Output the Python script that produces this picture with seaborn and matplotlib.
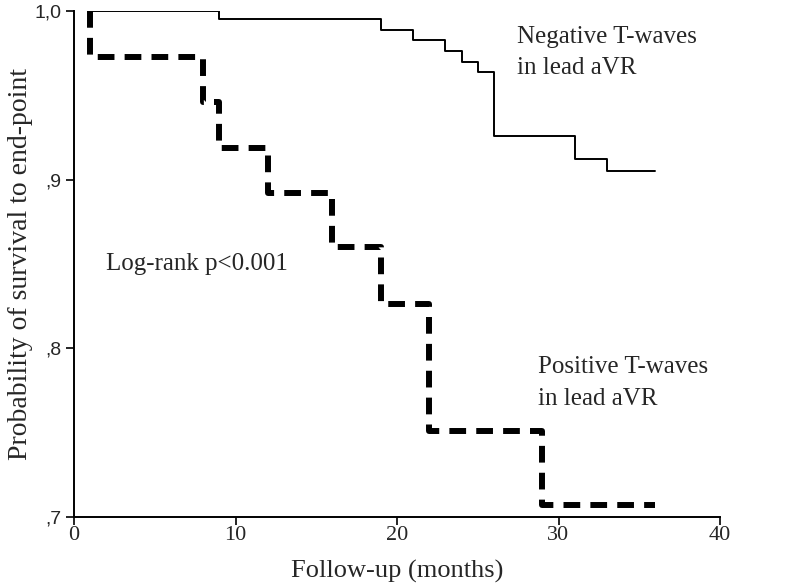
import pandas as pd
import seaborn as sns
import matplotlib.pyplot as plt

# Kaplan-Meier estimates (months, survival probability)
neg_months = [1, 9, 19, 21, 23, 24, 25, 26, 31, 33, 36]
neg_surv = [1.0, 0.995, 0.989, 0.983, 0.976, 0.970, 0.964, 0.926, 0.912, 0.905, 0.905]

pos_months = [1, 1, 8, 9, 12, 16, 19, 22, 29, 36]
pos_surv = [1.0, 0.973, 0.946, 0.919, 0.892, 0.860, 0.826, 0.751, 0.707, 0.707]

x_ticks = [0, 10, 20, 30, 40]
y_ticks = [0.7, 0.8, 0.9, 1.0]
y_tick_labels = [',7', ',8', ',9', '1,0']

neg_df = pd.DataFrame({'months': neg_months, 'surv': neg_surv})
pos_df = pd.DataFrame({'months': pos_months, 'surv': pos_surv})

sns.set_style('ticks')
plt.rcParams['font.family'] = ['Liberation Serif', 'DejaVu Serif']

fig = plt.figure(figsize=(7.89, 5.83), dpi=100)
ax = fig.add_axes([74 / 789, 66 / 583, (720 - 74) / 789, (517 - 11) / 583])

sns.lineplot(data=neg_df, x='months', y='surv', ax=ax, estimator=None, sort=False,
             drawstyle='steps-post', color='black', linewidth=1.4)
sns.lineplot(data=pos_df, x='months', y='surv', ax=ax, estimator=None, sort=False,
             drawstyle='steps-post', color='black', linewidth=4.3,
             linestyle=(0, (2.8, 1.7)))

ax.set_xlim(0, 40)
ax.set_ylim(0.7, 1.0)
ax.set_xticks(x_ticks)
ax.set_xticklabels([str(t) for t in x_ticks], fontsize=16)
ax.set_yticks(y_ticks)
ax.set_yticklabels(y_tick_labels, fontsize=14, family='Liberation Sans')
ax.tick_params(axis='both', direction='out', length=6, width=1.2, color='black')
ax.tick_params(axis='x', pad=0.5)
ax.tick_params(axis='y', pad=3)
for side in ['left', 'bottom']:
    ax.spines[side].set_linewidth(1.4)
    ax.spines[side].set_color('black')
sns.despine(ax=ax)

ax.set_xlabel('Follow-up (months)', fontsize=19, labelpad=11)
ax.set_ylabel('Probability of survival to end-point', fontsize=20, labelpad=1)

ax.text(27.4, 0.9845, 'Negative T-waves', fontsize=18, va='center', ha='left')
ax.text(27.4, 0.966, 'in lead aVR', fontsize=18, va='center', ha='left')
ax.text(1.98, 0.85, 'Log-rank p<0.001', fontsize=18, va='center', ha='left')
ax.text(28.7, 0.789, 'Positive T-waves', fontsize=18, va='center', ha='left')
ax.text(28.7, 0.770, 'in lead aVR', fontsize=18, va='center', ha='left')

fig.savefig('out.png', dpi=100)
